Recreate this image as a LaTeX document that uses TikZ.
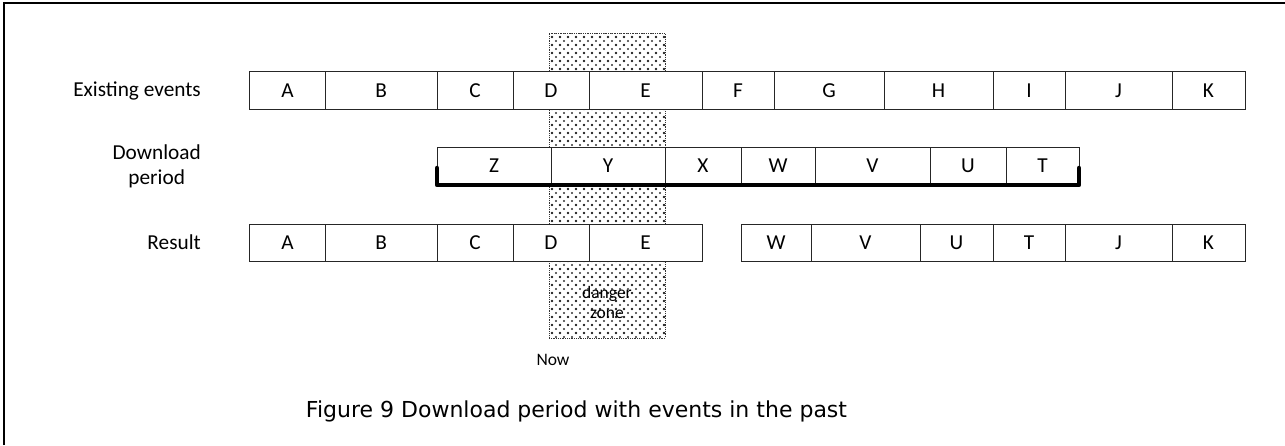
\documentclass[tikz,border=0pt]{standalone}
\usepackage{fontspec}
\setmainfont{Carlito}
\newfontfamily\capfont{DejaVu Sans}
\usetikzlibrary{patterns}
\pgfdeclarepatternformonly{zonedots}{\pgfqpoint{-2pt}{-2pt}}{\pgfqpoint{10pt}{10pt}}{\pgfqpoint{8pt}{8pt}}{%
  \pgfpathcircle{\pgfqpoint{0pt}{0pt}}{1.05pt}%
  \pgfpathcircle{\pgfqpoint{4pt}{4pt}}{1.05pt}%
  \pgfpathcircle{\pgfqpoint{8pt}{0pt}}{1.05pt}%
  \pgfpathcircle{\pgfqpoint{0pt}{8pt}}{1.05pt}%
  \pgfpathcircle{\pgfqpoint{8pt}{8pt}}{1.05pt}%
  \pgfusepath{fill}}
\begin{document}
\begin{tikzpicture}[x=1pt,y=-1pt,
  evbox/.style={draw=black!85, line width=0.9pt, fill=white, minimum height=38pt,
    inner sep=0pt, outer sep=0pt, anchor=west, font=\fontsize{21.3}{25}\selectfont},
  lab/.style={anchor=east, align=center, inner sep=0pt, font=\fontsize{21.3}{25}\selectfont},
  zone/.style={draw=black!80, densely dotted, line width=0.8pt, pattern=zonedots,
    pattern color=black!80, inner sep=0pt, outer sep=0pt},
  small/.style={inner sep=0pt, align=center, font=\fontsize{17.5}{20}\selectfont},
  bracket/.style={line width=4.5pt, line cap=round, line join=round}]
\useasboundingbox (0,0) rectangle (1285,445);
% frame
\draw[line width=2pt] (3.5,445) -- (3.5,2.5) -- (1285,2.5);
% danger zone
\node[zone, minimum width=116pt, minimum height=305pt] (dz) at (607,185.5) {};
% row 1
\node[evbox, minimum width=76pt]    (r1a) at (249.5,90.5) {A};
\node[evbox, minimum width=111.5pt] (r1b) at (325.5,90.5) {B};
\node[evbox, minimum width=76pt]    (r1c) at (437,90.5) {C};
\node[evbox, minimum width=76pt]    (r1d) at (513,90.5) {D};
\node[evbox, minimum width=113pt]   (r1e) at (589,90.5) {E};
\node[evbox, minimum width=72pt]    (r1f) at (702,90.5) {F};
\node[evbox, minimum width=110pt]   (r1g) at (774,90.5) {G};
\node[evbox, minimum width=109pt]   (r1h) at (884,90.5) {H};
\node[evbox, minimum width=72pt]    (r1i) at (993,90.5) {I};
\node[evbox, minimum width=107pt]   (r1j) at (1065,90.5) {J};
\node[evbox, minimum width=73pt]    (r1k) at (1172,90.5) {K};
% row 2
\node[evbox, minimum width=114pt] (r2z) at (437,166) {Z};
\node[evbox, minimum width=114pt] (r2y) at (551,166) {Y};
\node[evbox, minimum width=76pt]  (r2x) at (665,166) {X};
\node[evbox, minimum width=74pt]  (r2w) at (741,166) {W};
\node[evbox, minimum width=115pt] (r2v) at (815,166) {V};
\node[evbox, minimum width=76pt]  (r2u) at (930,166) {U};
\node[evbox, minimum width=73pt]  (r2t) at (1006,166) {T};
\draw[bracket] (r2z.south west) ++(0,-17) -- (r2z.south west) -- (r2t.south east) -- ++(0,-17);
% row 3
\node[evbox, minimum height=37pt, minimum width=76pt]    (r3a) at (249.5,242.5) {A};
\node[evbox, minimum height=37pt, minimum width=111.5pt] (r3b) at (325.5,242.5) {B};
\node[evbox, minimum height=37pt, minimum width=76pt]    (r3c) at (437,242.5) {C};
\node[evbox, minimum height=37pt, minimum width=76pt]    (r3d) at (513,242.5) {D};
\node[evbox, minimum height=37pt, minimum width=113pt]   (r3e) at (589,242.5) {E};
\node[evbox, minimum height=37pt, minimum width=70pt]    (r3w) at (741,242.5) {W};
\node[evbox, minimum height=37pt, minimum width=109pt]   (r3v) at (811,242.5) {V};
\node[evbox, minimum height=37pt, minimum width=73pt]    (r3u) at (920,242.5) {U};
\node[evbox, minimum height=37pt, minimum width=72pt]    (r3t) at (993,242.5) {T};
\node[evbox, minimum height=37pt, minimum width=107pt]   (r3j) at (1065,242.5) {J};
\node[evbox, minimum height=37pt, minimum width=73pt]    (r3k) at (1172,242.5) {K};
% labels
\node[lab] (l1) at (201,90.5) {Existing events};
\node[lab] (l2) at (201,166) {Download\\period};
\node[lab] (l3) at (201,242.5) {Result};
\node[small] (dzt) at (607,302) {danger\\zone};
\node[small] (now) at (553,360) {Now};
% caption
\node[inner sep=0pt, font=\capfont\fontsize{22}{26}\selectfont] (cap) at (576.5,411) {Figure 9 Download period with events in the past};
\end{tikzpicture}
\end{document}
